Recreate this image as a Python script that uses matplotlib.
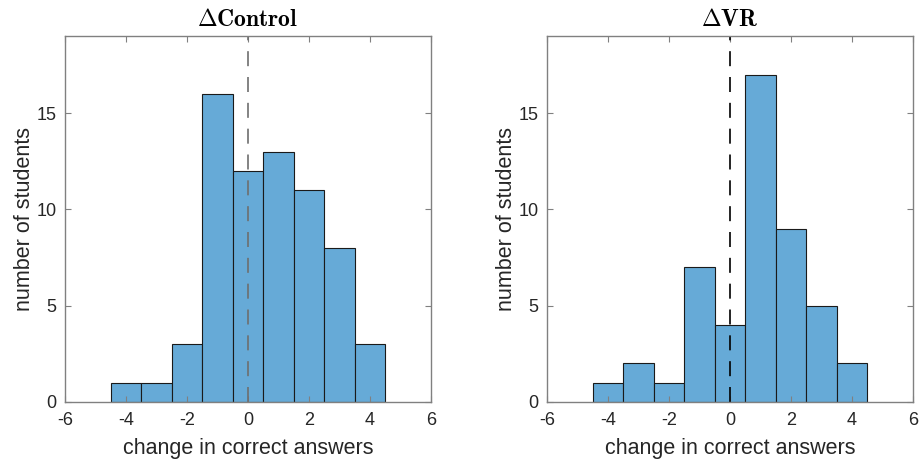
import numpy as np
import matplotlib
matplotlib.use('Agg')
import matplotlib.pyplot as plt

plt.rcParams['font.family'] = ['Liberation Sans', 'DejaVu Sans']
plt.rcParams['mathtext.fontset'] = 'cm'
plt.rcParams['axes.unicode_minus'] = False

# histogram bins: integer changes from -4 to 4
bin_centers = [-4, -3, -2, -1, 0, 1, 2, 3, 4]
control_counts = [1, 1, 3, 16, 12, 13, 11, 8, 3]
vr_counts = [1, 2, 1, 7, 4, 17, 9, 5, 2]

titles = [r'$\mathbf{\Delta Control}$', r'$\mathbf{\Delta VR}$']
dash_colors = ['#6e6e6e', '#000000']
bar_color = '#66aad7'
axis_gray = '#808080'
text_gray = '#262626'


def draw_hist(ax, counts, title, dash_color):
    edges = np.arange(min(bin_centers) - 0.5, max(bin_centers) + 1.5, 1)
    ax.hist(bin_centers, bins=edges, weights=counts, color=bar_color,
            edgecolor='#1a1a1a', linewidth=0.8)
    ax.axvline(0, color=dash_color, linestyle=(0, (9, 6.5)), linewidth=1.2)
    ax.set_xlim(-6, 6)
    ax.set_ylim(0, 19)
    ax.set_xticks(np.arange(-6, 7, 2))
    ax.set_yticks([0, 5, 10, 15])
    ax.set_title(title, fontsize=17, color='black', pad=7)
    ax.set_xlabel('change in correct answers', fontsize=15.5, color=text_gray,
                  labelpad=7)
    ax.set_ylabel('number of students', fontsize=15.5, color=text_gray,
                  labelpad=1)
    ax.tick_params(direction='in', top=True, right=True, length=4,
                   color=axis_gray, labelcolor=text_gray, labelsize=13,
                   width=0.8, pad=6)
    ax.tick_params(axis='x', pad=7)
    for spine in ax.spines.values():
        spine.set_color(axis_gray)
        spine.set_linewidth(1.0)


fig = plt.figure(figsize=(9.2, 4.62), dpi=100)
ax1 = fig.add_axes([0.0707, 0.1299, 0.3978, 0.792])
ax2 = fig.add_axes([0.5946, 0.1299, 0.3978, 0.792])

draw_hist(ax1, control_counts, titles[0], dash_colors[0])
draw_hist(ax2, vr_counts, titles[1], dash_colors[1])

fig.savefig('out.png', dpi=100)
